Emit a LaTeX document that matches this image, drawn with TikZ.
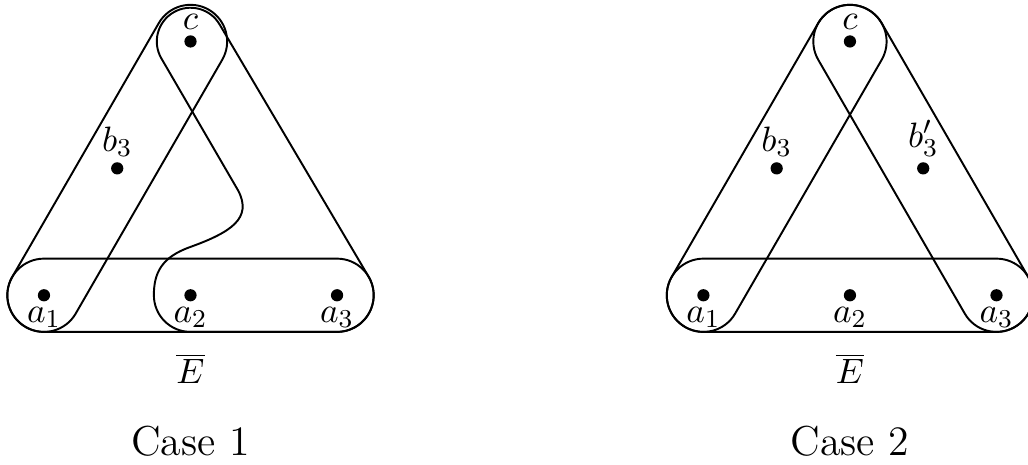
\documentclass[tikz,border=0pt]{standalone}
\usetikzlibrary{calc, positioning}

\begin{document}
\begin{tikzpicture}[
    x=0.8cm, y=0.8cm,
    font=\fontsize{11}{13}\selectfont,
    dot/.style={circle, fill=black, inner sep=0pt, minimum size=3.8pt},
    lbl/.style={inner sep=1.4pt},
    hedge/.style={semithick},
    case/.style={font=\fontsize{13}{15}\selectfont, anchor=base}
  ]
  \useasboundingbox (-0.60,-2.31) rectangle (13.43,4.03);
  \def\r{0.5}

  % Case 1
  \node[dot, label={[lbl]below:$a_1$}] (a1) at (0,0) {};
  \node[dot, label={[lbl]below:$a_2$}] (a2) at (2,0) {};
  \node[dot, label={[lbl]below:$a_3$}] (a3) at (4,0) {};
  \node[dot, label={[lbl]above:$c$}] (c) at (2,3.464) {};
  \node[dot, label={[lbl]above:$b_3$}] (b3) at (1,1.732) {};
  \node (e1) at (2,-1) {$\overline{E}$};
  \node[case] (case1) at (2,-2.18) {Case 1};

  \draw[hedge] ($(a1)+(0,\r)$) -- ($(a3)+(0,\r)$)
    arc[start angle=90, end angle=-90, radius=\r] -- ($(a1)+(0,-\r)$)
    arc[start angle=270, end angle=90, radius=\r] -- cycle;
  \draw[hedge] ($(a1)+(150:\r)$) -- ($(c)+(150:\r)$)
    arc[start angle=150, end angle=-30, radius=\r] -- ($(a1)+(-30:\r)$)
    arc[start angle=-30, end angle=-210, radius=\r] -- cycle;
  \draw[hedge] ($(c)+(30:0.46)$) -- ($(a3)+(30:\r)$)
    arc[start angle=30, end angle=-90, radius=\r] -- ($(a2)+(0,-\r)$)
    arc[start angle=-90, end angle=-180, radius=\r]
    .. controls +(0,0.3) and +(-0.4,-0.14) .. ($(a2)+(0,0.66)$)
    .. controls +(0.55,0.2) and +(0.2,-0.38) .. ($(a2)+(0.65,1.43)$)
    -- ($(c)+(210:0.46)$)
    arc[start angle=210, end angle=30, radius=0.46] -- cycle;

  % Case 2
  \node[dot, label={[lbl]below:$a_1$}] (A1) at (9,0) {};
  \node[dot, label={[lbl]below:$a_2$}] (A2) at (11,0) {};
  \node[dot, label={[lbl]below:$a_3$}] (A3) at (13,0) {};
  \node[dot, label={[lbl]above:$c$}] (C) at (11,3.464) {};
  \node[dot, label={[lbl]above:$b_3$}] (B3) at (10,1.732) {};
  \node[dot, label={[lbl]above:$b'_3$}] (B3p) at (12,1.732) {};
  \node (e2) at (11,-1) {$\overline{E}$};
  \node[case] (case2) at (11,-2.18) {Case 2};

  \draw[hedge] ($(A1)+(0,\r)$) -- ($(A3)+(0,\r)$)
    arc[start angle=90, end angle=-90, radius=\r] -- ($(A1)+(0,-\r)$)
    arc[start angle=270, end angle=90, radius=\r] -- cycle;
  \draw[hedge] ($(A1)+(150:\r)$) -- ($(C)+(150:\r)$)
    arc[start angle=150, end angle=-30, radius=\r] -- ($(A1)+(-30:\r)$)
    arc[start angle=-30, end angle=-210, radius=\r] -- cycle;
  \draw[hedge] ($(C)+(210:\r)$)
    arc[start angle=210, end angle=30, radius=\r] -- ($(A3)+(30:\r)$)
    arc[start angle=30, end angle=-150, radius=\r] -- cycle;
\end{tikzpicture}
\end{document}
